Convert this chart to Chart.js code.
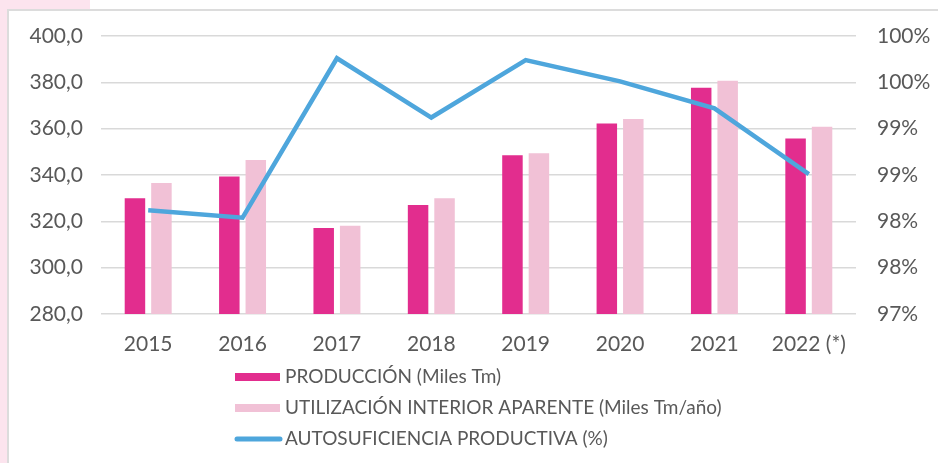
<!DOCTYPE html>
<html>
<head>
<meta charset="utf-8">
<script src="https://cdn.jsdelivr.net/npm/chart.js@4/dist/chart.umd.min.js"></script>
<style>
  html, body { margin: 0; padding: 0; background: #fff; }
  #wrap { position: relative; width: 938px; height: 463px; overflow: hidden; }
  .pinkTop { position: absolute; left: 0; top: 0; width: 90px; height: 10px; background: #fce4ee; }
  .pinkLeft { position: absolute; left: 0; top: 0; width: 7px; height: 463px; background: #fce4ee; }
  .frame { position: absolute; left: 7px; top: 9px; width: 940px; height: 460px; border-top: 2px solid #dcdcdc; border-left: 2px solid #dcdcdc; background: #fff; }
  canvas { position: absolute; left: 0; top: 0; }
</style>
</head>
<body>
<div id="wrap">
  <div class="pinkTop"></div>
  <div class="pinkLeft"></div>
  <div class="frame"></div>
  <canvas id="myChart" width="938" height="463"></canvas>
</div>
<script>
// datos
var anios = ["2015", "2016", "2017", "2018", "2019", "2020", "2021", "2022 (*)"];
var produccion = [330.0, 339.4, 317.1, 327.1, 348.5, 362.2, 377.7, 355.8];
var utilizacion = [336.5, 346.5, 318.1, 330.0, 349.4, 364.2, 380.7, 360.8];
var autosuficiencia = [98.12, 98.04, 99.76, 99.12, 99.74, 99.51, 99.22, 98.51];

var etiquetas = [
  "PRODUCCIÓN (Miles Tm)",
  "UTILIZACIÓN INTERIOR APARENTE (Miles Tm/año)",
  "AUTOSUFICIENCIA PRODUCTIVA (%)"
];

var gris = '#595959';
var fuente = 'Lato, "Open Sans", sans-serif';

// leyenda dibujada a mano (una fila por serie)
var leyenda = {
  id: 'leyenda',
  afterDraw: function(chart) {
    var ctx = chart.ctx;
    var x0 = 235, y0 = 377, paso = 31;
    ctx.save();
    ctx.font = '19px ' + fuente;
    ctx.textBaseline = 'middle';
    ctx.fillStyle = gris;
    for (var i = 0; i < chart.data.datasets.length; i++) {
      var ds = chart.data.datasets[i];
      var y = y0 + i * paso;
      if (ds.type == 'line') {
        ctx.strokeStyle = ds.borderColor;
        ctx.lineWidth = 5;
        ctx.lineCap = 'round';
        ctx.beginPath();
        ctx.moveTo(x0 + 2, y);
        ctx.lineTo(x0 + 45, y);
        ctx.stroke();
      } else {
        ctx.fillStyle = ds.backgroundColor;
        ctx.fillRect(x0, y - 4, 45, 8);
      }
      ctx.fillStyle = gris;
      ctx.fillText(ds.label, x0 + 50, y);
    }
    ctx.restore();
  }
};

var ctx = document.getElementById("myChart");

new Chart(ctx, {
  type: 'bar',
  data: {
    labels: anios,
    datasets: [
      {
        label: etiquetas[0],
        data: produccion,
        backgroundColor: '#e22d8e',
        yAxisID: 'y',
        order: 2,
        categoryPercentage: 0.561,
        barPercentage: 0.774
      },
      {
        label: etiquetas[1],
        data: utilizacion,
        backgroundColor: '#f1c1d6',
        yAxisID: 'y',
        order: 3,
        categoryPercentage: 0.561,
        barPercentage: 0.774
      },
      {
        type: 'line',
        label: etiquetas[2],
        data: autosuficiencia,
        borderColor: '#4ea6dc',
        borderWidth: 4.5,
        pointRadius: 0,
        tension: 0,
        yAxisID: 'y1',
        order: 1
      }
    ]
  },
  options: {
    responsive: false,
    animation: false,
    devicePixelRatio: 1,
    layout: { padding: { top: 36, left: 0, right: 0, bottom: 0 } },
    plugins: {
      legend: { display: false },
      tooltip: { enabled: false }
    },
    scales: {
      x: {
        grid: { display: false },
        border: { display: false },
        ticks: { color: gris, font: { family: fuente, size: 21 }, padding: 10 },
        afterFit: function(s) { s.height = 149; }
      },
      y: {
        position: 'left',
        min: 280,
        max: 400,
        ticks: {
          stepSize: 20,
          color: gris,
          font: { family: fuente, size: 21 },
          padding: 18,
          callback: function(v) { return v.toFixed(1).replace('.', ','); }
        },
        grid: { color: '#d9d9d9', lineWidth: 1.5, drawTicks: false },
        border: { display: false },
        afterFit: function(s) { s.width = 101; }
      },
      y1: {
        position: 'right',
        min: 97,
        max: 100,
        ticks: {
          stepSize: 0.5,
          color: gris,
          font: { family: fuente, size: 21 },
          padding: 21,
          callback: function(v) { return Math.round(v) + '%'; }
        },
        grid: { display: false, drawTicks: false },
        border: { display: false },
        afterFit: function(s) { s.width = 82; }
      }
    }
  },
  plugins: [leyenda]
});
</script>
</body>
</html>
